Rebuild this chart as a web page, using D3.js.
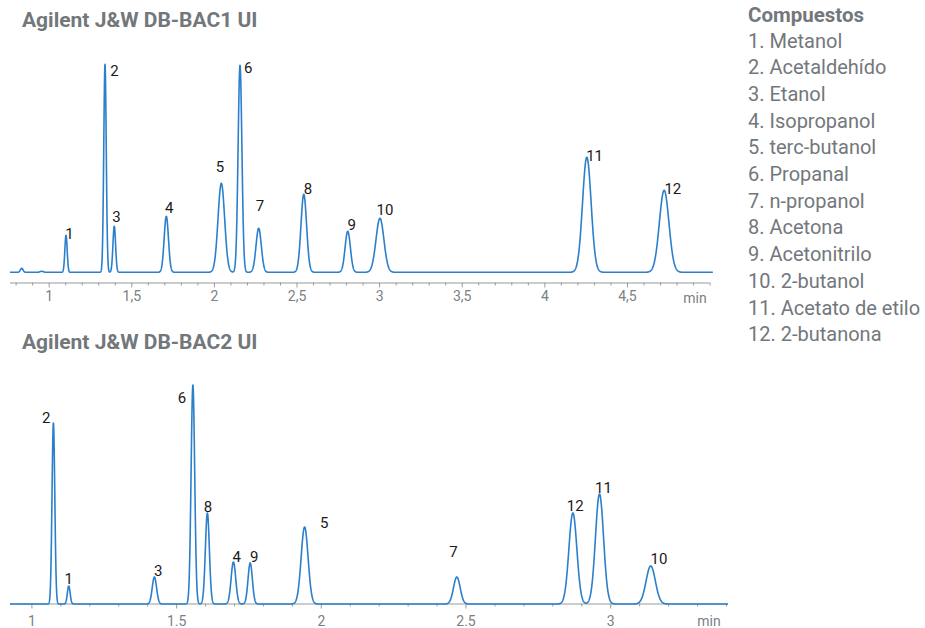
<!DOCTYPE html>
<html><head><meta charset="utf-8">
<script src="https://cdn.jsdelivr.net/npm/d3@7"></script>
<style>
body{margin:0;background:#fff;font-family:Roboto,"Noto Sans",sans-serif;}
</style></head>
<body><svg id="c" width="925" height="628"></svg>
<script>
// ---------- data ----------
const compounds = ["Metanol","Acetaldehído","Etanol","Isopropanol","terc-butanol","Propanal","n-propanol","Acetona","Acetonitrilo","2-butanol","Acetato de etilo","2-butanona"];
const titles = ["Agilent J&W DB-BAC1 UI","Agilent J&W DB-BAC2 UI"];
const legendTitle = "Compuestos";

// DB-BAC1: peak number, retention time (min), height (a.u.), width sigma (min)
const bac1Peak   = [1, 2, 3, 4, 5, 6, 7, 8, 9, 10, 11, 12];
const bac1RT     = [1.105, 1.341, 1.397, 1.712, 2.045, 2.158, 2.271, 2.544, 2.810, 3.005, 4.257, 4.725];
const bac1Height = [37, 208, 46, 56, 89, 207, 44, 78, 41, 54, 115, 82];
const bac1Sigma  = [0.007, 0.0075, 0.008, 0.013, 0.020, 0.0115, 0.016, 0.017, 0.016, 0.024, 0.026, 0.029];
// small unlabeled baseline disturbances
const bac1MinorRT = [0.837, 0.958];
const bac1MinorH  = [4, 1];
const bac1MinorS  = [0.008, 0.01];

// DB-BAC2
const bac2Peak   = [2, 1, 3, 6, 8, 4, 9, 5, 7, 12, 11, 10];
const bac2RT     = [1.076, 1.129, 1.425, 1.558, 1.608, 1.698, 1.756, 1.944, 2.470, 2.871, 2.963, 3.140];
const bac2Height = [181, 18, 27, 219, 91, 42, 41, 77, 27, 91, 110, 38];
const bac2Sigma  = [0.0048, 0.0048, 0.0075, 0.0062, 0.0069, 0.008, 0.0075, 0.012, 0.0115, 0.0138, 0.014, 0.016];

const bac1MajorTicks = [1, 1.5, 2, 2.5, 3, 3.5, 4, 4.5];
const bac1TickLabels = ["1","1,5","2","2,5","3","3,5","4","4,5"];
const bac2MajorTicks = [1, 1.5, 2, 2.5, 3];
const bac2TickLabels = ["1","1.5","2","2.5","3"];
const unitLabel = "min";

// ---------- layout ----------
const lineColor = "#2b7fcb";
const axisColor = "#9a9a9a";
const textGray = "#73777c";
const labelColor = "#1a1a1a";

// label offsets relative to apex [dx, dy] (layout only)
const bac1LabelOff = [[3.5,4],[9.5,11.7],[2.2,-4.3],[2.9,-3.4],[-1.3,-11.6],[8.3,7.7],[1.3,-17.7],[4.3,-0.3],[4,-1.7],[5,-3.3],[7.8,4],[8.7,4]];
const bac2LabelOff = [[-7.1,0],[0,-2.4],[3.9,-1],[-11,18],[0.6,-0.6],[3.4,-0.3],[3.9,-1],[19.6,1],[-3.4,-20],[2.3,-1.6],[4,-1.3],[8.2,-1.7]];

const svg = d3.select("#c");

function trace(t0, t1, step, rts, hs, ss) {
  const pts = [];
  for (let t = t0; t <= t1 + 1e-9; t += step) {
    let v = 0;
    for (let i = 0; i < rts.length; i++) {
      const z = (t - rts[i]) / ss[i];
      if (Math.abs(z) < 8) v += hs[i] * Math.exp(-0.5 * z * z);
    }
    pts.push([t, v]);
  }
  return pts;
}

function ticksBetween(a, b, step) {
  const out = [];
  for (let k = Math.ceil(a / step - 1e-9); k * step <= b + 1e-9; k++) out.push(+(k * step).toFixed(3));
  return out;
}

function panel(cfg) {
  const g = svg.append("g");
  const x = d3.scaleLinear().domain(cfg.xDomain).range(cfg.xRange);
  const y = d3.scaleLinear().domain([0, 200]).range([cfg.baseY, cfg.baseY - 200]);

  // title
  g.append("text").attr("x", 22).attr("y", cfg.titleY)
    .attr("font-size", 21).attr("font-weight", 700).attr("fill", textGray)
    .text(cfg.title);

  // axis
  const ax = g.append("g").attr("transform", `translate(0,${cfg.axisY})`);
  const minor = ticksBetween(cfg.xDomain[0], cfg.xDomain[1], 0.1)
    .filter(v => !cfg.major.some(m => Math.abs(m - v) < 1e-6));
  ax.append("g").call(d3.axisBottom(x).tickValues(minor).tickSize(cfg.minorSize).tickFormat(""))
    .call(s => s.select(".domain").remove())
    .selectAll("line").attr("stroke", axisColor);
  const majAxis = ax.append("g").call(d3.axisBottom(x).tickValues(cfg.major)
      .tickSize(cfg.majorSize).tickSizeOuter(0).tickPadding(cfg.pad)
      .tickFormat((d, i) => cfg.labels[i]));
  majAxis.select(".domain").attr("stroke", axisColor).attr("stroke-width", 1.2)
    .attr("d", `M${x(cfg.xDomain[0])},0.5H${x(cfg.xDomain[1])}`);
  majAxis.selectAll("line").attr("stroke", axisColor);
  majAxis.selectAll("text").attr("font-size", 14).attr("fill", "#7b7f84")
    .attr("font-family", "Roboto, sans-serif");
  g.append("text").attr("x", cfg.minX).attr("y", cfg.minY).attr("text-anchor", "middle")
    .attr("font-size", 14).attr("fill", "#7b7f84").text(unitLabel);

  // chromatogram
  const pts = trace(cfg.tStart, cfg.tEnd, cfg.step,
    cfg.rt.concat(cfg.minorRT || []), cfg.h.concat(cfg.minorH || []), cfg.s.concat(cfg.minorS || []));
  g.append("path").datum(pts)
    .attr("fill", "none").attr("stroke", lineColor).attr("stroke-width", 1.6)
    .attr("stroke-linejoin", "round")
    .attr("d", d3.line().x(d => x(d[0])).y(d => y(d[1])));

  // peak labels
  g.selectAll("text.pk").data(cfg.peaks).join("text").attr("class", "pk")
    .attr("x", (d, i) => x(cfg.rt[i]) + cfg.off[i][0])
    .attr("y", (d, i) => y(cfg.h[i]) + cfg.off[i][1])
    .attr("text-anchor", "middle").attr("font-size", 15).attr("fill", labelColor)
    .text(d => d);
}

panel({
  title: titles[0], titleY: 27,
  xDomain: [0.766, 5.0], xRange: [10, 709.6],
  baseY: 272.3, axisY: 282.5,
  major: bac1MajorTicks, labels: bac1TickLabels,
  minorSize: 3, majorSize: 5, pad: 4,
  minX: 695, minY: 303,
  tStart: 0.766, tEnd: 5.02, step: 0.0008,
  rt: bac1RT, h: bac1Height, s: bac1Sigma,
  minorRT: bac1MinorRT, minorH: bac1MinorH, minorS: bac1MinorS,
  peaks: bac1Peak, off: bac1LabelOff
});

panel({
  title: titles[1], titleY: 349,
  xDomain: [0.926, 3.407], xRange: [10, 728],
  baseY: 604, axisY: 603.5,
  major: bac2MajorTicks, labels: bac2TickLabels,
  minorSize: 3, majorSize: 5, pad: 8,
  minX: 709, minY: 626,
  tStart: 0.926, tEnd: 3.407, step: 0.0004,
  rt: bac2RT, h: bac2Height, s: bac2Sigma,
  peaks: bac2Peak, off: bac2LabelOff
});

// legend
const leg = svg.append("g");
leg.append("text").attr("x", 748).attr("y", 22).attr("font-size", 20.5)
  .attr("font-weight", 700).attr("fill", textGray).text(legendTitle);
leg.selectAll("text.it").data(compounds).join("text").attr("class", "it")
  .attr("x", 748).attr("y", (d, i) => 47.5 + i * 26.7)
  .attr("font-size", 20).attr("fill", textGray)
  .text((d, i) => `${i + 1}. ${d}`);
</script></body></html>
